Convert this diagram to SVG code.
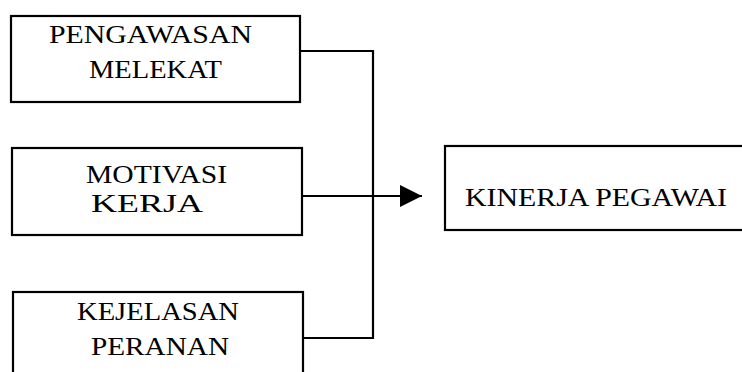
<svg xmlns="http://www.w3.org/2000/svg" width="742" height="372" viewBox="0 0 742 372">
<style>
.box{fill:#fff;stroke:#000;stroke-width:2.2}
.lbl{font-family:"Liberation Serif","Times New Roman",serif;font-size:26px;fill:#000}
.sm{font-size:25px}
.con{fill:none;stroke:#000;stroke-width:2.2}
</style>
<defs>
<marker id="arr" markerWidth="24" markerHeight="22" refX="22" refY="11" orient="auto" markerUnits="userSpaceOnUse">
<path d="M0,0 L22,11 L0,22 Z" fill="#000"/>
</marker>
</defs>
<rect width="742" height="372" fill="#fff"/>
<g id="connectors">
<path class="con" d="M300,51 H373 V338 H303"/>
<path class="con" d="M302,196 H422" marker-end="url(#arr)"/>
</g>
<g id="pengawasan">
<rect class="box" x="11" y="16" width="289" height="86"/>
<text class="lbl" x="49" y="43" textLength="203" lengthAdjust="spacingAndGlyphs">PENGAWASAN</text>
<text class="lbl" x="89" y="78" textLength="133" lengthAdjust="spacingAndGlyphs">MELEKAT</text>
</g>
<g id="motivasi">
<rect class="box" x="12" y="148" width="290" height="87"/>
<text class="lbl sm" x="86" y="183" textLength="141" lengthAdjust="spacingAndGlyphs">MOTIVASI</text>
<text class="lbl sm" x="91" y="212" textLength="112" lengthAdjust="spacingAndGlyphs">KERJA</text>
</g>
<g id="kejelasan">
<rect class="box" x="13" y="292" width="290" height="100"/>
<text class="lbl" x="77" y="320" textLength="162" lengthAdjust="spacingAndGlyphs">KEJELASAN</text>
<text class="lbl" x="91" y="355" textLength="138" lengthAdjust="spacingAndGlyphs">PERANAN</text>
</g>
<g id="kinerja">
<rect class="box" x="445" y="146" width="310" height="84"/>
<text class="lbl" x="465" y="206" textLength="262" lengthAdjust="spacingAndGlyphs">KINERJA PEGAWAI</text>
</g>
</svg>
